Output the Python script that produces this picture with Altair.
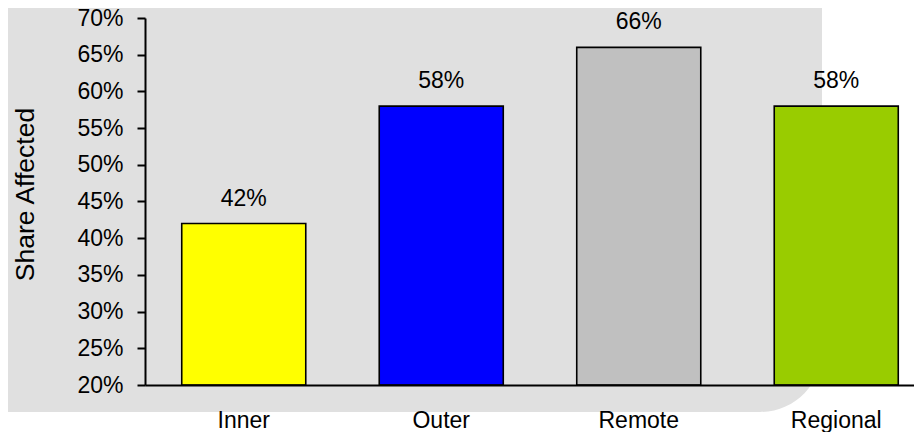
import altair as alt
import pandas as pd

categories = ["Inner", "Outer", "Remote", "Regional"]
shares = [0.42, 0.58, 0.66, 0.58]
bar_colors = ["#FFFF00", "#0000FF", "#C0C0C0", "#99CC00"]
y_ticks = [0.20, 0.25, 0.30, 0.35, 0.40, 0.45, 0.50, 0.55, 0.60, 0.65, 0.70]

FONT = "Liberation Sans, Arial, sans-serif"

df = pd.DataFrame({"area": categories, "share": shares, "base": [0.20] * len(categories)})

x_enc = alt.X(
    "area:N",
    sort=categories,
    scale=alt.Scale(range=[0, 790], paddingInner=0.372, paddingOuter=0.186),
    axis=alt.Axis(
        title=None, labelAngle=0, ticks=False, labelPadding=24,
        domainColor="black", domainWidth=2, zindex=1, labelOverlap=False,
        labelFont=FONT, labelFontSize=23, labelColor="black",
    ),
)
y_scale = alt.Scale(domain=[0.20, 0.70], zero=False, nice=False)
y_enc = alt.Y(
    "share:Q",
    scale=y_scale,
    axis=alt.Axis(
        title="Share Affected", values=y_ticks, format=".0%",
        grid=False, domainColor="black", domainWidth=2, labelOverlap=False,
        tickColor="black", tickWidth=2, tickSize=8, labelPadding=14,
        labelFont=FONT, labelFontSize=23, labelColor="black",
        titleFont=FONT, titleFontSize=26.5, titleFontWeight="normal", titleColor="black",
        titleAngle=270, titleX=-120, titleY=176, titleAlign="center", titleBaseline="middle",
        zindex=1,
    ),
)

bg = alt.Chart(pd.DataFrame({"bg": [1]})).mark_rect(
    color="#E0E0E0", cornerRadiusBottomRight=62
).encode(
    x=alt.value(-145), x2=alt.value(677), y=alt.value(-18), y2=alt.value(394)
)

bars = alt.Chart(df).mark_bar(stroke="black", strokeWidth=1.6).encode(
    x=x_enc,
    y=y_enc,
    y2="base:Q",
    color=alt.Color("area:N", scale=alt.Scale(domain=categories, range=bar_colors), legend=None),
)

labels = alt.Chart(df).mark_text(
    font=FONT, fontSize=23, color="black", baseline="alphabetic", dy=-18
).encode(
    x=x_enc,
    y=y_enc,
    text=alt.Text("share:Q", format=".0%"),
)

chart = alt.layer(bg, bars, labels).properties(
    width=769,
    height=367,
    autosize=alt.AutoSizeParams(type="none"),
    padding={"left": 137, "top": 10, "right": 0, "bottom": 47},
    background="white",
).configure_view(stroke=None)

chart.save("out.html", embed_options={"renderer": "svg", "actions": False})
